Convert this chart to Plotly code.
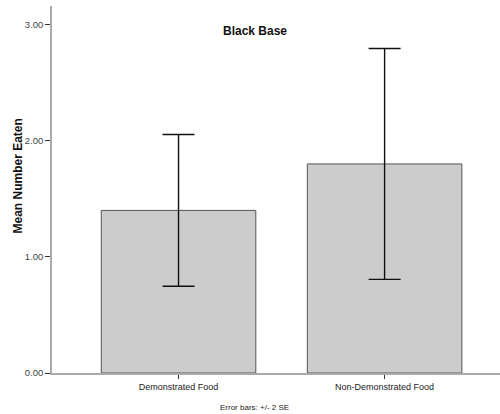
import plotly.graph_objects as go

categories = ["Demonstrated Food", "Non-Demonstrated Food"]
means = [1.40, 1.80]
err_2se = [0.653, 0.994]
y_ticks = [0, 1, 2, 3]
y_tick_labels = ["0.00", "1.00", "2.00", "3.00"]

FONT = "Arial, Liberation Sans, sans-serif"

fig = go.Figure()
fig.add_trace(go.Bar(
    x=[0, 1],
    y=means,
    width=0.75,
    marker=dict(color="#cccccc", line=dict(color="#555555", width=1)),
    error_y=dict(type="data", array=err_2se, visible=True,
                 color="#111111", thickness=1.4, width=16),
))

fig.update_layout(
    width=500, height=414,
    margin=dict(l=52, r=0, t=6, b=41),
    paper_bgcolor="white", plot_bgcolor="white",
    showlegend=False,
    font=dict(family=FONT, size=9, color="#333333"),
    xaxis=dict(
        range=[-0.614, 1.56],
        tickmode="array", tickvals=[0, 1], ticktext=categories,
        ticks="outside", ticklen=4, tickcolor="#333333",
        showline=True, linecolor="#aaaaaa", linewidth=2,
        showgrid=False, zeroline=False,
        tickfont=dict(size=9, color="#222222"),
    ),
    yaxis=dict(
        range=[0, 3.16],
        tickmode="array", tickvals=y_ticks, ticktext=y_tick_labels,
        ticks="outside", ticklen=5, tickcolor="#333333",
        showline=True, linecolor="#aaaaaa", linewidth=1.5,
        showgrid=False, zeroline=False,
        tickfont=dict(size=9.5, color="#444444"),
    ),
    annotations=[
        dict(text="<b>Black Base</b>", x=0.453, y=0.933, xref="paper", yref="paper",
             xanchor="center", yanchor="middle",
             showarrow=False, font=dict(size=12, color="#111111", family=FONT)),
        dict(text="<b>Mean Number Eaten</b>", x=-0.076, y=0.538, xref="paper", yref="paper",
             xanchor="center", yanchor="middle",
             textangle=-90, showarrow=False,
             font=dict(size=12, color="#111111", family=FONT)),
        dict(text="Error bars: +/- 2 SE", x=0.453, y=-0.093, xref="paper", yref="paper",
             xanchor="center", yanchor="middle",
             showarrow=False, font=dict(size=8, color="#222222", family=FONT)),
    ],
)

fig.write_html("out.html", config={"displayModeBar": False},
               post_script="document.body.style.margin='0px';document.body.style.overflow='hidden';")
